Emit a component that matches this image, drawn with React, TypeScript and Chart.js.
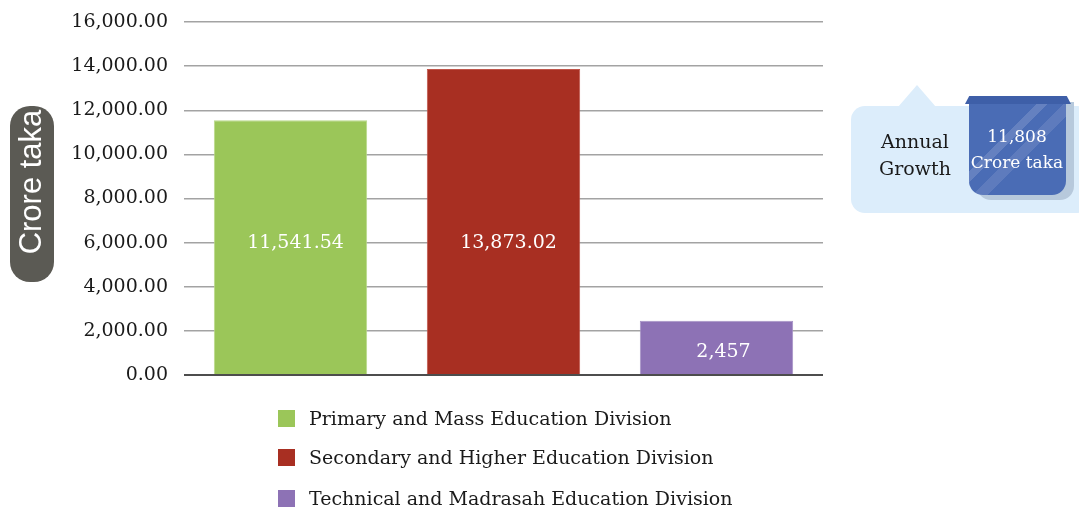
import React, { useEffect, useRef } from "react";
import { Chart, registerables } from "chart.js";

Chart.register(...registerables);

const categories = [
  "Primary and Mass Education Division",
  "Secondary and Higher Education Division",
  "Technical and Madrasah Education Division",
];
const values = [11541.54, 13873.02, 2457];
const valueLabels = ["11,541.54", "13,873.02", "2,457"];
const barColors = ["#9bc659", "#a82f22", "#8d72b5"];
const yTicks = [0, 2000, 4000, 6000, 8000, 10000, 12000, 14000, 16000];
const axisTitle = "Crore taka";
const calloutTitle = ["Annual", "Growth"];
const calloutValue = ["11,808", "Crore taka"];

const SERIF = "'DejaVu Serif', serif";

const labelPlugin = {
  id: "barLabels",
  afterDatasetsDraw(chart: any) {
    const meta = chart.getDatasetMeta(0);
    const ys = chart.scales.y;
    const ctx = chart.ctx;
    ctx.save();
    ctx.fillStyle = "#ffffff";
    ctx.font = `19px ${SERIF}`;
    ctx.textAlign = "center";
    ctx.textBaseline = "middle";
    meta.data.forEach((bar: any, i: number) => {
      const mid = (bar.y + bar.base) / 2;
      const y = values[i] > 4000 ? ys.getPixelForValue(6000) : mid + 5;
      ctx.fillText(valueLabels[i], bar.x + (i === 2 ? 7 : 5), y);
    });
    ctx.restore();
  },
};

export default function App() {
  const ref = useRef<HTMLCanvasElement>(null);
  useEffect(() => {
    document.body.style.margin = "0";
    const chart = new Chart(ref.current!, {
      type: "bar",
      data: {
        labels: categories,
        datasets: [
          {
            data: values,
            backgroundColor: barColors,
            borderColor: ["#b9d88a", "#c0554a", "#a692c6"],
            borderWidth: 1,
            categoryPercentage: 0.72,
            barPercentage: 1,
          },
        ],
      },
      options: {
        animation: false,
        responsive: false,
        maintainAspectRatio: false,
        layout: { padding: { left: 0, right: 256, top: 22, bottom: 135 } },
        plugins: { legend: { display: false }, tooltip: { enabled: false } },
        scales: {
          x: {
            display: true,
            grid: { display: false, drawTicks: false },
            ticks: { display: false },
            border: { display: false },
          },
          y: {
            min: 0,
            max: 16000,
            afterFit: (s: any) => {
              s.width = 184;
              s.paddingTop = 0;
              s.paddingBottom = 0;
            },
            afterBuildTicks: (s: any) => {
              s.ticks = yTicks.map((v) => ({ value: v }));
            },
            ticks: {
              padding: 16,
              color: "#1a1a1a",
              font: { family: "DejaVu Serif", size: 19 },
              callback: (v: any) =>
                Number(v).toLocaleString("en-US", {
                  minimumFractionDigits: 2,
                  maximumFractionDigits: 2,
                }),
            },
            grid: {
              drawTicks: false,
              color: (c: any) => (c.tick && c.tick.value === 0 ? "#4d4d4d" : "#a3a3a3"),
              lineWidth: (c: any) => (c.tick && c.tick.value === 0 ? 2 : 1.4),
            },
            border: { display: false },
          },
        },
      },
      plugins: [labelPlugin],
    });
    return () => chart.destroy();
  }, []);

  return (
    <div style={{ position: "fixed", left: 0, top: 0, width: 1079, height: 510, background: "#fff", overflow: "hidden" }}>
      <canvas ref={ref} width={1079} height={510} style={{ position: "absolute", left: 0, top: 0 }} />
      {/* y axis title pill */}
      <div
        style={{
          position: "absolute",
          left: 10,
          top: 106,
          width: 44,
          height: 176,
          borderRadius: 20,
          background: "#5b5a54",
        }}
      >
        <div
          style={{
            position: "absolute",
            left: 21,
            top: 76,
            transform: "translate(-50%, -50%) rotate(-90deg)",
            whiteSpace: "nowrap",
            color: "#fff",
            fontFamily: "'Liberation Sans', Arial, sans-serif",
            fontSize: 31,
            lineHeight: "34px",
          }}
        >
          {axisTitle}
        </div>
      </div>
      {/* legend */}
      {categories.map((c, i) => (
        <div
          key={c}
          style={{
            position: "absolute",
            left: 278,
            top: [407, 446, 487][i],
            height: 22,
            display: "flex",
            alignItems: "center",
            whiteSpace: "nowrap",
          }}
        >
          <div style={{ width: 17, height: 17, background: barColors[i], marginRight: 14 }} />
          <span style={{ fontFamily: SERIF, fontSize: 19, color: "#1a1a1a" }}>{c}</span>
        </div>
      ))}
      {/* callout */}
      <div
        style={{
          position: "absolute",
          left: 851,
          top: 106,
          width: 240,
          height: 107,
          borderRadius: 14,
          background: "#dcedfb",
        }}
      />
      <div
        style={{
          position: "absolute",
          left: 898,
          top: 85,
          width: 0,
          height: 0,
          borderLeft: "19px solid transparent",
          borderRight: "19px solid transparent",
          borderBottom: "22px solid #dcedfb",
        }}
      />
      <div
        style={{
          position: "absolute",
          left: 855,
          top: 128,
          width: 120,
          textAlign: "center",
          fontFamily: SERIF,
          fontSize: 19,
          lineHeight: "27px",
          color: "#1a1a1a",
        }}
      >
        {calloutTitle[0]}
        <br />
        {calloutTitle[1]}
      </div>
      {/* blue box shadow */}
      <div
        style={{
          position: "absolute",
          left: 977,
          top: 102,
          width: 97,
          height: 98,
          borderRadius: "0 0 14px 14px",
          background: "#b7c9dc",
        }}
      />
      <div
        style={{
          position: "absolute",
          left: 969,
          top: 97,
          width: 97,
          height: 98,
          borderRadius: "0 0 14px 14px",
          background:
            "linear-gradient(135deg, #4a6cb5 0%, #4a6cb5 38%, #6581c0 38%, #6581c0 44%, #4a6cb5 44%, #4a6cb5 52%, #5e7bbd 52%, #5e7bbd 60%, #4a6cb5 60%)",
        }}
      />
      <div
        style={{
          position: "absolute",
          left: 965,
          top: 96,
          width: 106,
          height: 8,
          background: "#3e5fa8",
          clipPath: "polygon(4% 0, 96% 0, 100% 100%, 0 100%)",
        }}
      />
      <div
        style={{
          position: "absolute",
          left: 967,
          top: 123,
          width: 100,
          textAlign: "center",
          fontFamily: SERIF,
          fontSize: 17,
          lineHeight: "26px",
          color: "#fff",
          whiteSpace: "nowrap",
        }}
      >
        {calloutValue[0]}
        <br />
        {calloutValue[1]}
      </div>
    </div>
  );
}
